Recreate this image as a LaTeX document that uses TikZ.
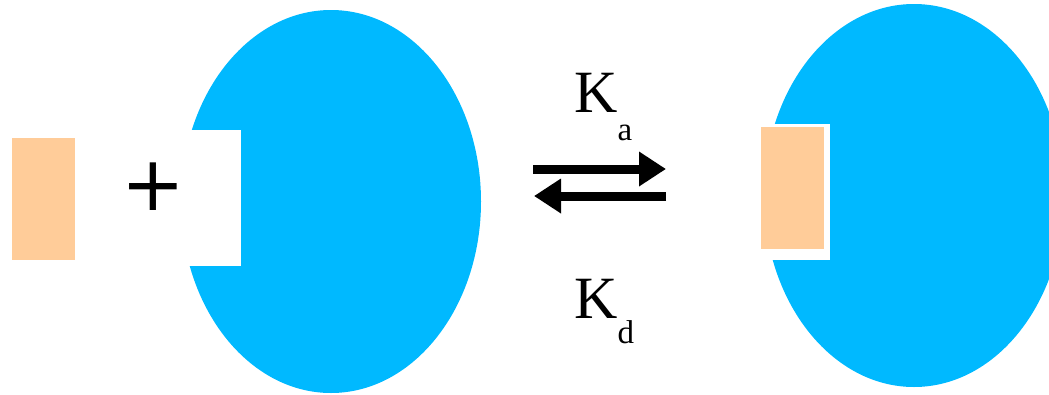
\documentclass[tikz,border=0pt]{standalone}
\usepackage{fontspec}
\setmainfont{Liberation Serif}
\newfontfamily\plusfont{DejaVu Sans}
\usetikzlibrary{arrows.meta}
\definecolor{protblue}{RGB}{0,185,255}
\definecolor{ligpeach}{RGB}{255,204,153}
\tikzset{
  protein/.style={fill=protblue},
  ligand/.style={fill=ligpeach},
  notch/.style={fill=white},
  eqarrow/.style={line width=9pt,-{Triangle[length=27pt,width=33pt]}},
  klabel/.style={inner sep=0pt,anchor=base west,font=\fontsize{60}{60}\selectfont}
}
\begin{document}
\begin{tikzpicture}[x=1pt,y=-1pt]
\useasboundingbox (0,0) rectangle (1049,394);
\clip (0,0) rectangle (1049,394);
% left ligand
\fill[ligand] (12,138) rectangle (75,260);
% left protein with binding pocket
\fill[protein] (331,201.5) ellipse [x radius=150, y radius=191.5];
\fill[notch] (176,130) rectangle (241,266);
% plus
\node[inner sep=0pt,font=\plusfont\fontsize{76}{76}\selectfont] (plus) at (153.5,187) {+};
% equilibrium arrows
\coordinate (fwdA) at (533,169);
\coordinate (fwdB) at (666,169);
\coordinate (revA) at (666,196);
\coordinate (revB) at (534,196);
\draw[eqarrow] (fwdA) -- (fwdB);
\draw[eqarrow] (revA) -- (revB);
\node[klabel] (ka) at (574,112) {K\raisebox{-28pt}{\fontsize{33}{33}\selectfont a}};
\node[klabel] (kd) at (574,318) {K\raisebox{-25pt}{\fontsize{33}{33}\selectfont d}};
% right complex
\fill[protein] (914,195.5) ellipse [x radius=150, y radius=191.5];
\fill[notch] (755,124) rectangle (830,260);
\fill[ligand] (761,127) rectangle (824,249);
\end{tikzpicture}
\end{document}
